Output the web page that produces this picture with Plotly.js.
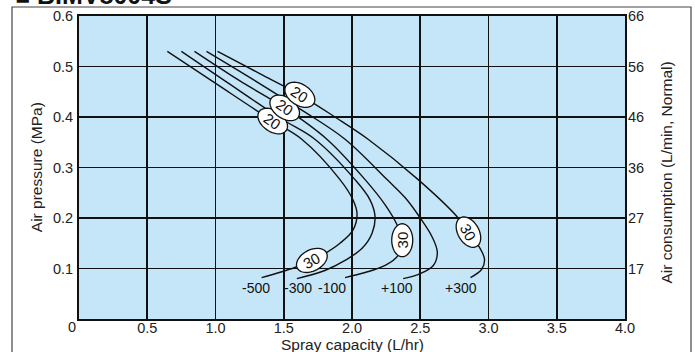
<!DOCTYPE html>
<html>
<head>
<meta charset="utf-8">
<script src="https://cdn.plot.ly/plotly-3.0.1.min.js"></script>
<style>html,body{margin:0;padding:0;background:#fff;}#chart{width:695px;height:352px;}</style>
</head>
<body>
<div id="chart"></div>
<script>
// ---- data ----
const chartTitle = '■ BIMV8004S';
const xTickVals = [0, 0.5, 1.0, 1.5, 2.0, 2.5, 3.0, 3.5, 4.0];
const xTickLabels = ['0', '0.5', '1.0', '1.5', '2.0', '2.5', '3.0', '3.5', '4.0'];
const yTickVals = [0.1, 0.2, 0.3, 0.4, 0.5, 0.6];
const yLeftLabels = ['0.1', '0.2', '0.3', '0.4', '0.5', '0.6'];
const yRightLabels = ['17', '27', '36', '46', '56', '66'];

const seriesNames = ['-500', '-300', '-100', '+100', '+300'];
// spray capacity (L/hr) and air pressure (MPa) along each curve
const m500x = [0.647, 0.993, 1.419, 1.632, 1.912, 2.007, 2.037, 2.007, 1.912, 1.816, 1.706, 1.581, 1.338];
const m500y = [0.530, 0.468, 0.392, 0.356, 0.276, 0.236, 0.208, 0.176, 0.150, 0.132, 0.116, 0.102, 0.082];
const m300x = [0.750, 1.088, 1.485, 1.728, 2.022, 2.132, 2.169, 2.147, 2.074, 1.949, 1.801, 1.596];
const m300y = [0.530, 0.468, 0.396, 0.356, 0.276, 0.236, 0.202, 0.170, 0.140, 0.116, 0.096, 0.080];
const m100x = [0.846, 1.176, 1.507, 1.816, 2.096, 2.243, 2.331, 2.368, 2.338, 2.243, 2.096, 1.949];
const m100y = [0.530, 0.472, 0.418, 0.356, 0.276, 0.226, 0.186, 0.156, 0.126, 0.106, 0.092, 0.082];
const p100x = [0.934, 1.265, 1.618, 1.949, 2.257, 2.390, 2.500, 2.588, 2.625, 2.596, 2.500, 2.375];
const p100y = [0.530, 0.476, 0.416, 0.356, 0.276, 0.240, 0.200, 0.162, 0.132, 0.106, 0.090, 0.080];
const p300x = [1.015, 1.324, 1.618, 1.875, 2.118, 2.485, 2.772, 2.853, 2.934, 2.971, 2.949, 2.868];
const p300y = [0.530, 0.486, 0.444, 0.400, 0.356, 0.276, 0.202, 0.172, 0.142, 0.118, 0.098, 0.082];

// rating labels placed on curve points: [series index, point index, text]
const ratingSeries = [0, 2, 4, 0, 2, 4];
const ratingPoint  = [2, 2, 2, 10, 7, 7];
const ratingText   = ['20', '20', '20', '30', '30', '30'];

// name labels below curve ends
const nameLabelX = [1.297, 1.604, 1.853, 2.330, 2.799];
const nameLabelY = [0.061, 0.061, 0.061, 0.061, 0.061];

// ---- styles ----
const ratingAngle = [35, 35, 33, -28, -90, 60];
const FONT = 'Liberation Sans, Arial, Helvetica, sans-serif';
const TICK = 14.5, TITLE = 15.5;
const plotW = 546, plotH = 303;
const xRange = [0, 4], yRange = [0, 0.6];
const sx = plotW / (xRange[1] - xRange[0]);
const sy = plotH / (yRange[1] - yRange[0]);

const curveX = [m500x, m300x, m100x, p100x, p300x];
const curveY = [m500y, m300y, m100y, p100y, p300y];

const traces = curveX.map((xs, i) => ({
  type: 'scatter', mode: 'lines', x: xs, y: curveY[i], name: seriesNames[i],
  line: {color: '#111', width: 1.4, shape: 'spline', smoothing: 1},
  hoverinfo: 'skip', showlegend: false
}));
// invisible trace to activate the right axis
traces.push({type: 'scatter', mode: 'lines', x: [xRange[0]], y: [yRange[0]], yaxis: 'y2',
  line: {width: 0}, hoverinfo: 'skip', showlegend: false});

function ellipsePath(cx, cy, angDeg, a, b) {
  const t = angDeg * Math.PI / 180;
  let d = '';
  for (let i = 0; i <= 48; i++) {
    const p = 2 * Math.PI * i / 48;
    const dx = a * Math.cos(p) * Math.cos(t) - b * Math.sin(p) * Math.sin(t);
    const dy = a * Math.cos(p) * Math.sin(t) + b * Math.sin(p) * Math.cos(t);
    const X = cx + dx / sx, Y = cy - dy / sy;
    d += (i === 0 ? 'M' : 'L') + X.toFixed(5) + ',' + Y.toFixed(5);
  }
  return d + 'Z';
}

const shapes = [];
const annotations = [];
ratingText.forEach((txt, k) => {
  const s = ratingSeries[k], p = ratingPoint[k];
  const cx = curveX[s][p], cy = curveY[s][p];
  shapes.push({type: 'path', xref: 'x', yref: 'y', path: ellipsePath(cx, cy, ratingAngle[k], 16.5, 10.5),
    fillcolor: '#fff', line: {color: '#111', width: 1.3}, layer: 'above'});
  annotations.push({x: cx, y: cy, xref: 'x', yref: 'y', text: txt, showarrow: false,
    textangle: ratingAngle[k], font: {family: FONT, size: 15, color: '#111'}, xanchor: 'center', yanchor: 'middle'});
});
seriesNames.forEach((nm, i) => {
  annotations.push({x: nameLabelX[i], y: nameLabelY[i], xref: 'x', yref: 'y', text: nm, showarrow: false,
    font: {family: FONT, size: 14, color: '#111'}, xanchor: 'center', yanchor: 'middle'});
});
// outer frame
shapes.push({type: 'rect', xref: 'paper', yref: 'paper', x0: -0.1227, x1: 1.1209, y0: -0.25, y1: 1.0297,
  line: {color: '#444', width: 1.2}, fillcolor: 'rgba(0,0,0,0)', layer: 'below'});
// chart title (clipped at the top like the reference)
annotations.push({xref: 'paper', yref: 'paper', x: -0.121, y: 1.0165, xanchor: 'left', yanchor: 'bottom',
  text: '<b>' + chartTitle + '</b>', showarrow: false, font: {family: FONT, size: 25, color: '#111'}});
// "0" tick label offset left of the axis, as in the reference
annotations.push({xref: 'paper', yref: 'paper', x: -0.013, y: -0.027, xanchor: 'center', yanchor: 'middle',
  text: xTickLabels[0], showarrow: false, font: {family: FONT, size: TICK, color: '#222'}});
// axis titles
annotations.push({xref: 'paper', yref: 'paper', x: 0.5, y: -0.083, xanchor: 'center', yanchor: 'middle',
  text: 'Spray capacity (L/hr)', showarrow: false, font: {family: FONT, size: TITLE, color: '#222'}});
annotations.push({xref: 'paper', yref: 'paper', x: -0.0775, y: 0.5, xanchor: 'center', yanchor: 'middle',
  text: 'Air pressure (MPa)', textangle: -90, showarrow: false, font: {family: FONT, size: TITLE, color: '#222'}});
annotations.push({xref: 'paper', yref: 'paper', x: 1.076, y: 0.485, xanchor: 'center', yanchor: 'middle',
  text: 'Air consumption (L/min, Normal)', textangle: -90, showarrow: false, font: {family: FONT, size: TITLE, color: '#222'}});

const layout = {
  width: 695, height: 352,
  margin: {l: 79, r: 70, t: 16, b: 33, pad: 0},
  paper_bgcolor: '#fff', plot_bgcolor: '#c5e6f8',
  font: {family: FONT, size: TICK, color: '#222'},
  showlegend: false,
  xaxis: {range: xRange, tickvals: xTickVals.slice(1), ticktext: xTickLabels.slice(1),
    showgrid: true, gridcolor: '#111', gridwidth: 1.8, zeroline: false,
    showline: true, linecolor: '#111', linewidth: 2, mirror: true, ticks: '', ticklen: 0, ticklabelstandoff: -5,
    tickfont: {family: FONT, size: TICK, color: '#222'}, fixedrange: true},
  yaxis: {range: yRange, tickvals: yTickVals, ticktext: yLeftLabels,
    showgrid: true, gridcolor: '#111', gridwidth: 1.8, zeroline: false,
    showline: true, linecolor: '#111', linewidth: 2, mirror: true, ticks: '', ticklen: 0, ticklabelstandoff: 1,
    tickfont: {family: FONT, size: TICK, color: '#222'}, fixedrange: true},
  yaxis2: {range: yRange, overlaying: 'y', side: 'right', tickvals: yTickVals, ticktext: yRightLabels,
    showgrid: false, zeroline: false, showline: false, ticks: '', ticklen: 0, ticklabelstandoff: 2,
    tickfont: {family: FONT, size: TICK, color: '#222'}, fixedrange: true},
  shapes: shapes,
  annotations: annotations
};

Plotly.newPlot('chart', traces, layout, {staticPlot: true, displayModeBar: false});
</script>
</body>
</html>
